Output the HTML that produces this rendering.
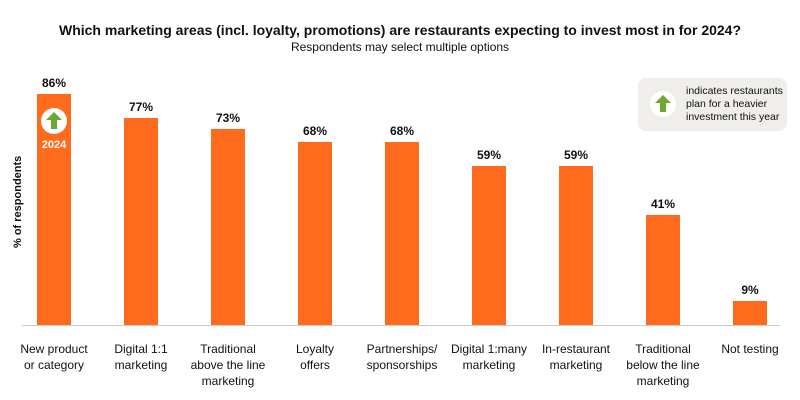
<!DOCTYPE html><html><head><style>
body{margin:0;width:800px;height:400px;background:#fff;font-family:"Liberation Sans",sans-serif;position:relative;overflow:hidden;color:#111}
.t{position:absolute;left:0;width:800px;text-align:center}
.bar{position:absolute;width:34px;background:#ff6b1c}
.v{position:absolute;width:60px;text-align:center;font-size:12px;font-weight:bold}
.l{position:absolute;width:100px;text-align:center;font-size:12px;line-height:16px;top:341px}
</style></head><body>
<div class="t" style="top:22px;font-size:14px;font-weight:bold">Which marketing areas (incl. loyalty, promotions) are restaurants expecting to invest most in for 2024?</div>
<div class="t" style="top:40px;font-size:12px">Respondents may select multiple options</div>
<div style="position:absolute;left:6px;top:208px;transform:rotate(-90deg);transform-origin:0 0;font-size:11px;font-weight:bold;white-space:nowrap;left:12px;top:248px">% of respondents</div>
<div style="position:absolute;left:22px;top:325px;width:758px;height:1px;background:#ccc"></div>
<div style="position:absolute;left:638px;top:78px;width:149px;height:53px;background:#efeeea;border-radius:8px"></div>
<div style="position:absolute;left:650px;top:91px;width:26px;height:26px;border-radius:50%;background:#fff"></div>
<svg style="position:absolute;left:650px;top:91px" width="26" height="26"><path d="M13 4 L21 12 L16 12 L16 21 L10 21 L10 12 L5 12 Z" fill="#6ea833"/></svg>
<div style="position:absolute;left:686px;top:85px;font-size:10.5px;line-height:13px">indicates restaurants<br>plan for a heavier<br>investment this year</div>
<div id="c"></div>
<script>
var d=[[86,"New product<br>or category"],[77,"Digital 1:1<br>marketing"],[73,"Traditional<br>above the line<br>marketing"],[68,"Loyalty<br>offers"],[68,"Partnerships/<br>sponsorships"],[59,"Digital 1:many<br>marketing"],[59,"In-restaurant<br>marketing"],[41,"Traditional<br>below the line<br>marketing"],[9,"Not testing"]];
var h="";d.forEach(function(e,i){var x=37+87*i,top=325-e[0]*2.69;
h+='<div class="bar" style="left:'+x+'px;top:'+top+'px;height:'+(325-top)+'px"></div>';
h+='<div class="v" style="left:'+(x-13)+'px;top:'+(top-18)+'px">'+e[0]+'%</div>';
h+='<div class="l" style="left:'+(x-33)+'px">'+e[1]+'</div>';});
h+='<div style="position:absolute;left:41px;top:108px;width:26px;height:26px;border-radius:50%;background:#fff"></div><svg style="position:absolute;left:41px;top:108px" width="26" height="26"><path d="M13 4 L21 12 L16 12 L16 21 L10 21 L10 12 L5 12 Z" fill="#6ea833"/></svg><div style="position:absolute;left:37px;top:139px;width:34px;text-align:center;color:#fff;font-size:11px;font-weight:bold">2024</div>';
document.getElementById("c").innerHTML=h;
</script></body></html>
